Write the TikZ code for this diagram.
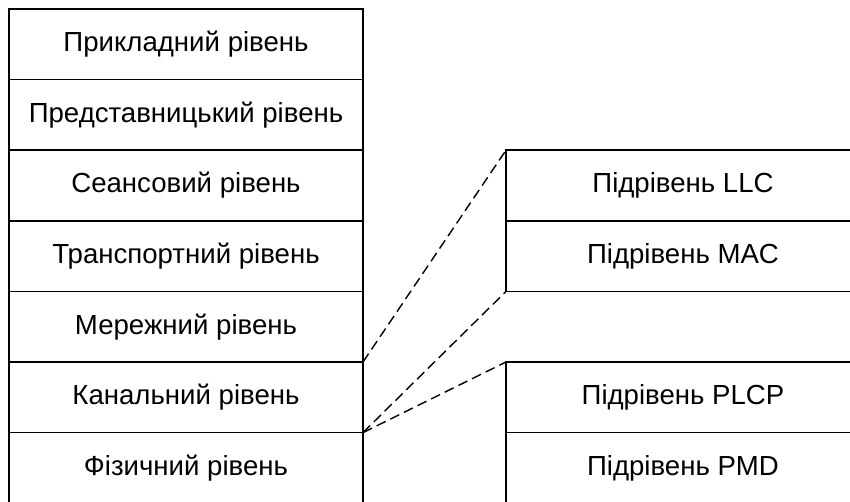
\documentclass[tikz,border=0pt]{standalone}
\usepackage{fontspec}
\setmainfont{Liberation Sans}
\usetikzlibrary{positioning}
\tikzset{
  layer/.style={draw, line width=0.75pt, inner sep=0pt, outer sep=0pt,
    minimum width=177pt, minimum height=35.3pt, font=\fontsize{13.8}{16}\selectfont},
  link line/.style={line width=0.7pt, dash pattern=on 5pt off 2.6pt}
}
\begin{document}
\begin{tikzpicture}[x=0.5pt,y=0.5pt]
  \useasboundingbox (0,0) rectangle (850,502);
  % OSI stack
  \node[layer, anchor=north west] (app) at (9,493) {Прикладний рівень};
  \node[layer, below=0pt of app] (pres) {Представницький рівень};
  \node[layer, below=0pt of pres] (sess) {Сеансовий рівень};
  \node[layer, below=0pt of sess] (trans) {Транспортний рівень};
  \node[layer, below=0pt of trans] (net) {Мережний рівень};
  \node[layer, below=0pt of net] (link) {Канальний рівень};
  \node[layer, below=0pt of link] (phys) {Фізичний рівень};
  % sublayers
  \node[layer, right=71.5pt of sess.north east, anchor=north west] (llc) {Підрівень LLC};
  \node[layer, below=0pt of llc] (mac) {Підрівень MAC};
  \node[layer, right=71.5pt of link.north east, anchor=north west] (plcp) {Підрівень PLCP};
  \node[layer, below=0pt of plcp] (pmd) {Підрівень PMD};
  % dashed links
  \draw[link line] (net.south east) -- (llc.north west);
  \draw[link line] (link.south east) -- (mac.south west);
  \draw[link line] (link.south east) -- (plcp.north west);
\end{tikzpicture}
\end{document}
